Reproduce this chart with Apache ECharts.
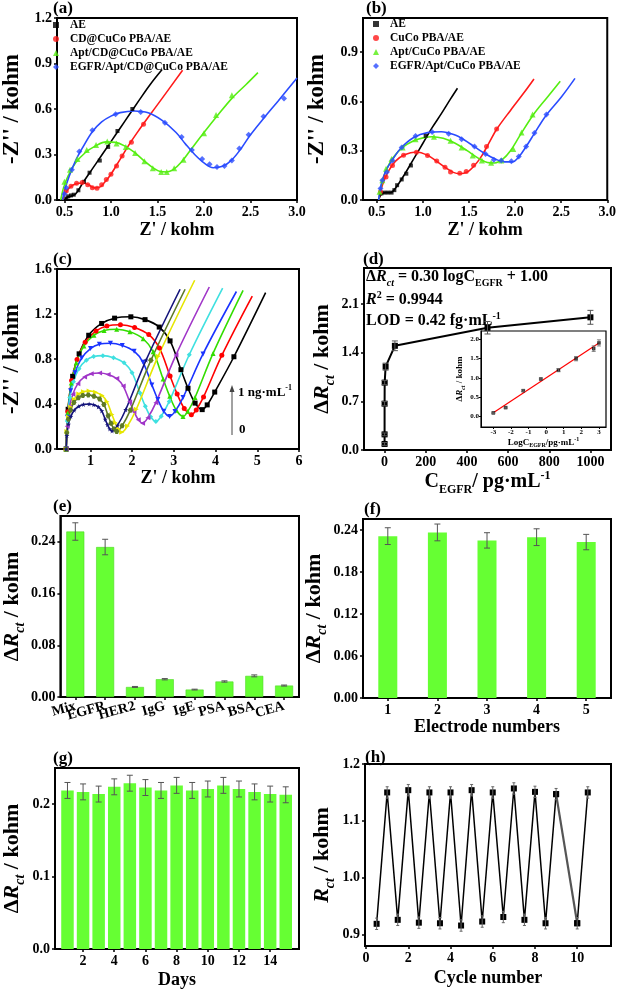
<!DOCTYPE html>
<html><head><meta charset="utf-8">
<script src="https://cdn.jsdelivr.net/npm/echarts@6/dist/echarts.min.js"></script>
<style>html,body{margin:0;padding:0;background:#fff}#c{width:619px;height:992px}</style>
</head><body><div id="c"></div>
<script>
// ---------- (a) ----------
const aAEFit = [[0.5,0.0],[0.53,0.018],[0.57,0.025],[0.62,0.04],[0.7,0.115],[0.8,0.205],[0.9,0.295],[1.0,0.385],[1.1,0.475],[1.2,0.565],[1.3,0.655],[1.42,0.76],[1.55,0.86]];
const aAEPts = [[0.52,0.01],[0.54,0.024],[0.57,0.03],[0.6,0.035],[0.65,0.064],[0.71,0.12],[0.77,0.18],[0.88,0.26],[0.97,0.35],[1.07,0.455],[1.23,0.6]];
const aCDFit = [[0.48,0.0],[0.51,0.045],[0.56,0.085],[0.63,0.108],[0.7,0.112],[0.76,0.1],[0.82,0.08],[0.87,0.082],[0.93,0.115],[1.0,0.17],[1.1,0.27],[1.2,0.37],[1.3,0.46],[1.4,0.545],[1.55,0.67],[1.77,0.856]];
const aCDPts = [[0.52,0.06],[0.57,0.09],[0.63,0.11],[0.69,0.115],[0.75,0.1],[0.8,0.08],[0.85,0.078],[0.9,0.1],[0.95,0.135],[1.0,0.17],[1.06,0.225],[1.12,0.29],[1.22,0.38],[1.35,0.5]];
const aAptFit = [[0.46,0.0],[0.49,0.08],[0.54,0.16],[0.62,0.245],[0.72,0.31],[0.83,0.355],[0.95,0.383],[1.05,0.38],[1.15,0.355],[1.25,0.315],[1.35,0.262],[1.45,0.213],[1.53,0.188],[1.6,0.185],[1.67,0.2],[1.75,0.245],[1.85,0.325],[2.0,0.445],[2.15,0.56],[2.3,0.67],[2.45,0.76],[2.58,0.84]];
const aAptPts = [[0.5,0.12],[0.56,0.2],[0.64,0.27],[0.74,0.33],[0.84,0.362],[0.96,0.385],[1.06,0.372],[1.16,0.35],[1.26,0.31],[1.36,0.255],[1.45,0.21],[1.54,0.185],[1.6,0.185],[1.68,0.21],[1.78,0.265],[2.0,0.44],[2.13,0.56],[2.3,0.69]];
const aEGFRFit = [[0.48,0.0],[0.5,0.06],[0.55,0.155],[0.62,0.26],[0.7,0.35],[0.8,0.45],[0.9,0.515],[1.0,0.553],[1.1,0.576],[1.25,0.587],[1.4,0.575],[1.55,0.525],[1.7,0.445],[1.8,0.37],[1.9,0.3],[2.0,0.245],[2.1,0.213],[2.2,0.222],[2.3,0.265],[2.4,0.34],[2.5,0.43],[2.65,0.545],[2.8,0.655],[3.0,0.805]];
const aEGFRPts = [[0.5,0.04],[0.52,0.08],[0.58,0.2],[0.66,0.32],[0.8,0.46],[1.05,0.565],[1.32,0.58],[1.58,0.51],[1.76,0.415],[1.87,0.33],[1.98,0.27],[2.06,0.235],[2.14,0.218],[2.22,0.225],[2.3,0.26],[2.38,0.34],[2.48,0.43],[2.64,0.55],[2.86,0.67]];
const aNames = ['AE','CD@CuCo PBA/AE','Apt/CD@CuCo PBA/AE','EGFR/Apt/CD@CuCo PBA/AE'];

// ---------- (b) ----------
const bAEFit = [[0.52,0.0],[0.55,0.035],[0.6,0.045],[0.65,0.045],[0.7,0.07],[0.8,0.155],[0.9,0.25],[1.0,0.345],[1.1,0.44],[1.2,0.525],[1.3,0.615],[1.375,0.68]];
const bAEPts = [[0.55,0.04],[0.58,0.045],[0.62,0.045],[0.66,0.045],[0.69,0.06],[0.72,0.09],[0.77,0.125],[0.82,0.16],[0.87,0.21],[1.03,0.39]];
const bCuFit = [[0.52,0.0],[0.56,0.09],[0.62,0.17],[0.7,0.235],[0.8,0.275],[0.93,0.292],[1.05,0.272],[1.15,0.235],[1.25,0.195],[1.33,0.168],[1.4,0.16],[1.48,0.17],[1.56,0.21],[1.64,0.27],[1.72,0.35],[1.8,0.43],[1.95,0.545],[2.1,0.655],[2.205,0.736]];
const bCuPts = [[0.54,0.05],[0.6,0.14],[0.67,0.21],[0.79,0.272],[0.93,0.29],[1.05,0.27],[1.15,0.237],[1.24,0.199],[1.3,0.17],[1.4,0.162],[1.47,0.174],[1.55,0.211],[1.69,0.326],[1.8,0.432]];
const bAptFit = [[0.52,0.0],[0.55,0.09],[0.6,0.18],[0.68,0.26],[0.78,0.32],[0.9,0.36],[1.0,0.378],[1.1,0.385],[1.22,0.375],[1.35,0.345],[1.48,0.3],[1.6,0.255],[1.7,0.228],[1.78,0.225],[1.86,0.245],[1.95,0.3],[2.05,0.39],[2.2,0.52],[2.35,0.625],[2.49,0.722]];
const bAptPts = [[0.53,0.05],[0.56,0.12],[0.6,0.19],[0.66,0.25],[0.78,0.32],[0.92,0.37],[1.12,0.385],[1.3,0.36],[1.42,0.32],[1.54,0.27],[1.64,0.24],[1.74,0.226],[1.85,0.24],[1.98,0.31],[2.07,0.41],[2.19,0.52]];
const bEGFRFit = [[0.52,0.0],[0.55,0.1],[0.6,0.18],[0.67,0.245],[0.76,0.315],[0.9,0.38],[1.05,0.41],[1.2,0.415],[1.35,0.395],[1.45,0.365],[1.57,0.32],[1.68,0.28],[1.79,0.248],[1.88,0.232],[1.97,0.232],[2.04,0.262],[2.12,0.325],[2.21,0.405],[2.33,0.51],[2.5,0.625],[2.65,0.74]];
const bEGFRPts = [[0.54,0.07],[0.56,0.12],[0.61,0.17],[0.67,0.24],[0.77,0.32],[0.92,0.39],[1.1,0.414],[1.28,0.403],[1.42,0.37],[1.56,0.325],[1.68,0.28],[1.77,0.245],[1.85,0.24],[1.96,0.235],[2.04,0.265],[2.12,0.326],[2.21,0.407],[2.34,0.52]];
const bNames = ['AE','CuCo PBA/AE','Apt/CuCo PBA/AE','EGFR/Apt/CuCo PBA/AE'];

// ---------- (c) ----------
const cBlack = [[0.42,0],[0.467,0.353],[0.575,0.646],[0.73,0.846],[0.96,1.011],[1.27,1.116],[1.58,1.163],[1.97,1.175],[2.31,1.15],[2.65,1.084],[2.91,0.961],[3.17,0.705],[3.34,0.54],[3.51,0.408],[3.68,0.35],[3.8,0.392],[3.98,0.506],[4.44,0.82],[5.2,1.39]];
const cRed = [[0.42,0],[0.459,0.332],[0.55,0.608],[0.68,0.796],[0.875,0.95],[1.135,1.05],[1.395,1.094],[1.72,1.105],[2.06,1.081],[2.4,1.017],[2.655,0.897],[2.91,0.649],[3.08,0.489],[3.25,0.361],[3.42,0.305],[3.537,0.347],[3.712,0.463],[4.15,0.833],[4.88,1.36]];
const cGreen = [[0.42,0],[0.456,0.32],[0.541,0.586],[0.662,0.767],[0.844,0.916],[1.086,1.012],[1.328,1.054],[1.63,1.065],[1.948,1.042],[2.266,0.98],[2.505,0.864],[2.743,0.623],[2.902,0.468],[3.061,0.344],[3.22,0.29],[3.335,0.335],[3.508,0.458],[3.94,0.85],[4.66,1.41]];
const cBlue = [[0.42,0],[0.452,0.282],[0.526,0.517],[0.632,0.677],[0.791,0.808],[1.003,0.893],[1.215,0.931],[1.48,0.94],[1.764,0.921],[2.048,0.869],[2.261,0.771],[2.474,0.57],[2.616,0.44],[2.758,0.336],[2.9,0.29],[3.028,0.334],[3.22,0.457],[3.7,0.845],[4.5,1.4]];
const cCyan = [[0.42,0],[0.446,0.249],[0.508,0.457],[0.596,0.598],[0.728,0.714],[0.904,0.789],[1.08,0.822],[1.3,0.83],[1.554,0.812],[1.808,0.766],[1.999,0.678],[2.189,0.497],[2.316,0.38],[2.443,0.286],[2.57,0.245],[2.698,0.292],[2.89,0.423],[3.37,0.838],[4.17,1.43]];
const cMagenta = [[0.42,0],[0.444,0.203],[0.5,0.371],[0.58,0.486],[0.7,0.581],[0.86,0.641],[1.02,0.668],[1.22,0.675],[1.426,0.662],[1.632,0.626],[1.787,0.559],[1.941,0.421],[2.044,0.332],[2.147,0.261],[2.25,0.23],[2.378,0.278],[2.57,0.412],[3.05,0.835],[3.85,1.44]];
const cYellow = [[0.42,0],[0.437,0.155],[0.475,0.283],[0.53,0.371],[0.613,0.443],[0.723,0.489],[0.833,0.51],[0.97,0.515],[1.126,0.504],[1.282,0.475],[1.399,0.42],[1.516,0.307],[1.594,0.234],[1.672,0.176],[1.75,0.15],[1.89,0.204],[2.1,0.353],[2.625,0.825],[3.5,1.5]];
const cOlive = [[0.42,0],[0.436,0.144],[0.473,0.264],[0.526,0.346],[0.606,0.413],[0.712,0.456],[0.818,0.475],[0.95,0.48],[1.086,0.47],[1.222,0.444],[1.324,0.396],[1.426,0.295],[1.494,0.23],[1.562,0.178],[1.63,0.155],[1.761,0.206],[1.958,0.345],[2.45,0.788],[3.27,1.42]];
const cNavy = [[0.42,0],[0.437,0.12],[0.475,0.22],[0.53,0.288],[0.613,0.344],[0.723,0.38],[0.833,0.396],[0.97,0.4],[1.08,0.393],[1.19,0.374],[1.273,0.338],[1.355,0.263],[1.41,0.215],[1.465,0.177],[1.52,0.16],[1.65,0.21],[1.846,0.349],[2.335,0.79],[3.15,1.42]];

// ---------- (d) ----------
const dConc = [0.001,0.005,0.05,0.5,5,50,500,1000];
const dLogC = [-3,-2.3,-1.3,-0.3,0.7,1.7,2.7,3];
const dRct = [0.087,0.225,0.667,0.97,1.2,1.5,1.76,1.91];
const dErr = [0.02,0.02,0.03,0.03,0.05,0.07,0.09,0.1];
const dFit = [[-3,0.09],[3,1.91]];

// ---------- (e) ----------
const eCats = ['Mix','EGFR','HER2','IgG','IgE','PSA','BSA','CEA'];
const eVals = [0.256,0.232,0.0155,0.0275,0.0115,0.024,0.0327,0.0177];
const eErr = [0.0135,0.012,0.0008,0.001,0.0006,0.001,0.0015,0.0008];

// ---------- (f) ----------
const fCats = ['1','2','3','4','5'];
const fVals = [0.2315,0.2368,0.2254,0.230,0.223];
const fErr = [0.012,0.012,0.011,0.012,0.011];

// ---------- (g) ----------
const gDays = [1,2,3,4,5,6,7,8,9,10,11,12,13,14,15];
const gVals = [0.219,0.217,0.214,0.224,0.229,0.223,0.219,0.226,0.219,0.221,0.226,0.221,0.217,0.214,0.213];
const gErr = [0.011,0.011,0.011,0.011,0.011,0.011,0.011,0.011,0.011,0.011,0.011,0.011,0.011,0.011,0.011];

// ---------- (h) ----------
const hCycle = [0.5,1,1.5,2,2.5,3,3.5,4,4.5,5,5.5,6,6.5,7,7.5,8,8.5,9,10,10.5];
const hRct = [0.919,1.150,0.926,1.154,0.921,1.150,0.920,1.150,0.916,1.154,0.923,1.150,0.931,1.157,0.926,1.151,0.920,1.147,0.920,1.150];
const hErr = [0.01,0.01,0.01,0.01,0.01,0.01,0.01,0.01,0.01,0.01,0.01,0.01,0.01,0.01,0.01,0.01,0.01,0.01,0.01,0.01];

// ================= rendering =================
const F = "'Liberation Serif','Times New Roman',serif";
function rich(fs){
  const sub = Math.round(fs*0.62);
  return {
    n:{fontFamily:F,fontWeight:'bold',fontSize:fs,color:'#000'},
    i:{fontFamily:F,fontWeight:'bold',fontStyle:'italic',fontSize:fs,color:'#000'},
    si:{fontFamily:F,fontWeight:'bold',fontStyle:'italic',fontSize:sub,color:'#000',verticalAlign:'bottom',padding:[0,0,-Math.round(fs*0.18),0]},
    s:{fontFamily:F,fontWeight:'bold',fontSize:sub,color:'#000',verticalAlign:'bottom',padding:[0,0,-Math.round(fs*0.18),0]},
    p:{fontFamily:F,fontWeight:'bold',fontSize:sub,color:'#000',verticalAlign:'top',padding:[-Math.round(fs*0.12),0,0,0]}
  };
}
function vAxis(o){
  return {
    type: o.type || 'value', gridIndex:o.g, min:o.min, max:o.max, data:o.data,
    axisLine:{show:true,onZero:false,lineStyle:{color:'#000',width:o.lw||1.5}},
    axisTick:{show:true,length:o.tl||3,alignWithLabel:true,customValues:o.vals,lineStyle:{color:'#000',width:o.lw||1.5}},
    axisLabel:{customValues:o.vals,interval:0,rotate:o.rot||0,
      formatter:o.dec==null?undefined:(v=>(+v).toFixed(o.dec)),
      fontFamily:F,fontWeight:'bold',fontSize:o.fs||14,color:'#000',margin:o.m||5},
    splitLine:{show:false},
    name:o.name||'', nameLocation:'middle', nameGap:o.ng||20,
    nameTextStyle:{fontFamily:F,fontWeight:'bold',fontSize:o.nfs||18,color:'#000',rich:rich(o.nfs||18)}
  };
}
function errData(xs, vs, es){ return xs.map((x,i)=>[x, vs[i]-es[i], vs[i]+es[i]]); }
function errSeries(ax, data, color, cap, lw){
  return {type:'custom', xAxisIndex:ax, yAxisIndex:ax, data:data, silent:true, z:4,
    encode:{x:0,y:[1,2]},
    renderItem:function(p, api){
      const x = api.value(0);
      const a = api.coord([x, api.value(2)]), b = api.coord([x, api.value(1)]);
      const st = {stroke:color, lineWidth:lw||1};
      return {type:'group', children:[
        {type:'line', shape:{x1:a[0],y1:a[1],x2:b[0],y2:b[1]}, style:st},
        {type:'line', shape:{x1:a[0]-cap,y1:a[1],x2:a[0]+cap,y2:a[1]}, style:st},
        {type:'line', shape:{x1:b[0]-cap,y1:b[1],x2:b[0]+cap,y2:b[1]}, style:st}
      ]};
    }};
}
function fit(ax, data, color){
  return {type:'line', xAxisIndex:ax, yAxisIndex:ax, data:data, smooth:0.35, showSymbol:false, silent:true,
    lineStyle:{color:color,width:1.6}, itemStyle:{color:color}, z:2};
}
function pts(ax, name, data, color, sym, size){
  return {type:'scatter', xAxisIndex:ax, yAxisIndex:ax, name:name, data:data, symbol:sym, symbolSize:size||5,
    itemStyle:{color:color}, z:3, silent:true};
}
const colA = ['#000000','#ff1a1a','#55ee11','#2a4cff'];
const symA = ['rect','circle','triangle','diamond'];
const szA = [4,5,6,6];

const grids = [
  {left:54, top:18, width:243, height:182},
  {left:363, top:18, width:247, height:182},
  {left:53, top:269, width:246, height:180},
  {left:364, top:268, width:247, height:182},
  {left:481, top:331, width:125, height:96, backgroundColor:'#fff'},
  {left:54, top:516, width:245, height:181},
  {left:363, top:519, width:248, height:179},
  {left:54, top:768, width:245, height:181},
  {left:365, top:764, width:246, height:182}
].map(g=>Object.assign({show:true, borderColor:'#000', borderWidth:2, backgroundColor:'transparent'}, g));
grids[4].borderWidth = 1.2;

const yNameR = '{n|Δ}{i|R}{si|ct}{n| / kohm}';
const xAxes = [
  vAxis({g:0,min:0.42,max:3.0,vals:[0.5,1,1.5,2,2.5,3],dec:1,name:"Z' / kohm",ng:21}),
  vAxis({g:1,min:0.35,max:3.0,vals:[0.5,1,1.5,2,2.5,3],dec:1,name:"Z' / kohm",ng:21}),
  vAxis({g:2,min:0.2,max:6,vals:[1,2,3,4,5,6],dec:0,name:"Z' / kohm",ng:20}),
  vAxis({g:3,min:-100,max:1100,vals:[0,200,400,600,800,1000],dec:0,name:'{n|C}{s|EGFR}{n|/ pg·mL}{p|-1}',nfs:20,ng:18}),
  vAxis({g:4,min:-3.7,max:3.4,vals:[-3,-2,-1,0,1,2,3],dec:0,fs:7,m:2,tl:2,lw:1,name:'{n|LogC}{s|EGFR}{n|/pg·mL}{p|-1}',nfs:9,ng:9}),
  vAxis({g:5,type:'category',data:eCats,rot:15,m:9,fs:14}),
  vAxis({g:6,type:'category',data:fCats,name:'Electrode numbers',ng:20}),
  vAxis({g:7,min:0.2,max:15.85,vals:[2,4,6,8,10,12,14],dec:0,name:'Days',ng:22}),
  vAxis({g:8,min:-0.05,max:11.6,vals:[0,2,4,6,8,10],dec:0,name:'Cycle number',ng:23})
];
const yAxes = [
  vAxis({g:0,min:0,max:1.2,vals:[0,0.3,0.6,0.9,1.2],dec:1,name:"-Z'' / kohm",nfs:23,ng:33}),
  vAxis({g:1,min:0,max:1.107,vals:[0,0.3,0.6,0.9],dec:1,name:"-Z'' / kohm",nfs:23,ng:34}),
  vAxis({g:2,min:0,max:1.6,vals:[0,0.4,0.8,1.2,1.6],dec:1,name:"-Z'' / kohm",nfs:23,ng:33}),
  vAxis({g:3,min:0,max:2.62,vals:[0,0.7,1.4,2.1],dec:1,name:yNameR,nfs:22,ng:27}),
  vAxis({g:4,min:-0.28,max:2.22,vals:[0,0.5,1,1.5,2],dec:1,fs:7,m:2,tl:2,lw:1,name:yNameR,nfs:9,ng:14}),
  vAxis({g:5,min:0,max:0.28,vals:[0,0.08,0.16,0.24],dec:2,name:yNameR,nfs:22,ng:34}),
  vAxis({g:6,min:0,max:0.256,vals:[0,0.06,0.12,0.18,0.24],dec:2,name:yNameR,nfs:22,ng:30}),
  vAxis({g:7,min:0,max:0.25,vals:[0,0.1,0.2],dec:1,name:yNameR,nfs:22,ng:32}),
  vAxis({g:8,min:0.88,max:1.2,vals:[0.9,1.0,1.1,1.2],dec:1,name:'{i|R}{si|ct}{n| / kohm}',nfs:22,ng:32})
];

const series = [];
// (a)
[[aAEFit,aAEPts],[aCDFit,aCDPts],[aAptFit,aAptPts],[aEGFRFit,aEGFRPts]].forEach((d,i)=>{
  series.push(fit(0,d[0],colA[i]));
  series.push(pts(0,aNames[i],d[1],colA[i],symA[i],szA[i]));
});
// (b)
[[bAEFit,bAEPts],[bCuFit,bCuPts],[bAptFit,bAptPts],[bEGFRFit,bEGFRPts]].forEach((d,i)=>{
  series.push(fit(1,d[0],colA[i]));
  series.push(pts(1,bNames[i],d[1],colA[i],symA[i],szA[i]));
});
// (c)
const hexPath = 'path://M4,0 L12,0 L16,7 L12,14 L4,14 L0,7 Z';
const starPath = 'path://M8,0 L10,6 L16,6 L11,10 L13,16 L8,12 L3,16 L5,10 L0,6 L6,6 Z';
const cCurves = [
  [cBlack,'#000000','rect',0],[cRed,'#ff0000','circle',0],[cGreen,'#33dd00','triangle',0],
  [cBlue,'#1a33ff','triangle',180],[cCyan,'#3fe0e0','diamond',0],[cMagenta,'#a035c8','triangle',90],
  [cYellow,'#e6e600','triangle',-90],[cOlive,'#5e7a26',hexPath,0],[cNavy,'#14147a',starPath,0]
];
cCurves.forEach(c=>{
  const arr = c[0];
  series.push({type:'line', xAxisIndex:2, yAxisIndex:2, smooth:0.35, silent:true,
    data: arr.map((p,i)=> i===arr.length-1 ? {value:p, symbol:'none'} : p),
    symbol:c[2], symbolRotate:c[3], symbolSize:5, showSymbol:true,
    lineStyle:{color:c[1],width:1.6}, itemStyle:{color:c[1]}});
});
// (d) main
series.push({type:'line', xAxisIndex:3, yAxisIndex:3, data:dConc.map((c,i)=>[c,dRct[i]]), symbol:'rect', symbolSize:6,
  lineStyle:{color:'#000',width:2}, itemStyle:{color:'#000'}, silent:true, z:3});
series.push(errSeries(3, errData(dConc,dRct,dErr), '#555', 3, 1));
// (d) inset
series.push({type:'line', xAxisIndex:4, yAxisIndex:4, data:dFit, showSymbol:false, lineStyle:{color:'#ff0000',width:1.2}, silent:true, z:3});
series.push(pts(4,'inset',dLogC.map((c,i)=>[c,dRct[i]]),'#000','rect',3.5));
series.push(errSeries(4, errData(dLogC,dRct,dErr.map(e=>e*0.8)), '#666', 2, 0.8));
// (e)
const barCol = '#66ff33';
series.push({type:'bar', xAxisIndex:5, yAxisIndex:5, data:eVals, barWidth:18, itemStyle:{color:barCol,borderColor:'#4fd626',borderWidth:0.6}, silent:true});
series.push(errSeries(5, errData(eCats.map((c,i)=>i),eVals,eErr), '#555', 3, 1));
// (f)
series.push({type:'bar', xAxisIndex:6, yAxisIndex:6, data:fVals, barWidth:19, itemStyle:{color:barCol}, silent:true});
series.push(errSeries(6, errData(fCats.map((c,i)=>i),fVals,fErr), '#555', 3, 1));
// (g)
series.push({type:'bar', xAxisIndex:7, yAxisIndex:7, data:gDays.map((d,i)=>[d,gVals[i]]), barWidth:12.5, itemStyle:{color:barCol}, silent:true});
series.push(errSeries(7, errData(gDays,gVals,gErr), '#555', 3, 1));
// (h)
const hPts = hCycle.map((c,i)=>[c,hRct[i]]);
series.push({type:'line', xAxisIndex:8, yAxisIndex:8, data:hPts.slice(0,18), symbol:'rect', symbolSize:6, lineStyle:{color:'#000',width:1.5}, itemStyle:{color:'#000'}, silent:true, z:3});
series.push({type:'line', xAxisIndex:8, yAxisIndex:8, data:hPts.slice(17,19), symbol:'rect', symbolSize:6, lineStyle:{color:'#555',width:2.2}, itemStyle:{color:'#000'}, silent:true, z:2});
series.push({type:'line', xAxisIndex:8, yAxisIndex:8, data:hPts.slice(18), symbol:'rect', symbolSize:6, lineStyle:{color:'#000',width:1.5}, itemStyle:{color:'#000'}, silent:true, z:3});
series.push(errSeries(8, errData(hCycle,hRct,hErr), '#666', 1.5, 1));

function legend(left, top, names){
  return {left:left, top:top, orient:'vertical', padding:0, itemWidth:6, itemHeight:6, itemGap:2, selectedMode:false,
    data:names.map((n,i)=>({name:n, icon:symA[i], itemStyle:{color:colA[i]}})),
    textStyle:{fontFamily:F,fontWeight:'bold',fontSize:11.5,color:'#000',lineHeight:12,padding:[0,0,0,6]}};
}

function label(txt, left, top){ return {type:'text', left:left, top:top, style:{text:txt, fontFamily:F, fontWeight:'bold', fontSize:17, fill:'#000'}}; }
const R16 = rich(16);
const graphic = [
  label('(a)',53,0), label('(b)',366,0), label('(c)',53,251), label('(d)',363,251),
  label('(e)',53,498), label('(f)',364,501), label('(g)',53,750), label('(h)',365,749),
  {type:'text', left:366, top:269, style:{rich:R16, text:'{n|Δ}{i|R}{si|ct}{n| = 0.30 logC}{s|EGFR}{n| + 1.00}'}},
  {type:'text', left:366, top:290, style:{rich:R16, text:'{i|R}{p|2}{n| = 0.9944}'}},
  {type:'text', left:366, top:311, style:{rich:R16, text:'{n|LOD = 0.42 fg·mL}{p|-1}'}},
  {type:'line', shape:{x1:232,y1:435,x2:232,y2:390}, style:{stroke:'#444',lineWidth:1}},
  {type:'polygon', shape:{points:[[229.5,392],[234.5,392],[232,385]]}, style:{fill:'#444'}},
  {type:'text', left:238, top:384, style:{rich:rich(13), text:'{n|1 ng·mL}{p|-1}'}},
  {type:'text', left:239, top:423, style:{text:'0', fontFamily:F, fontWeight:'bold', fontSize:13, fill:'#000'}}
];

const chart = echarts.init(document.getElementById('c'), null, {renderer:'canvas'});
chart.setOption({
  animation:false, backgroundColor:'#fff',
  grid:grids, xAxis:xAxes, yAxis:yAxes, series:series,
  legend:[legend(53,19,aNames), legend(373,18,bNames)],
  graphic:graphic
});
</script></body></html>
